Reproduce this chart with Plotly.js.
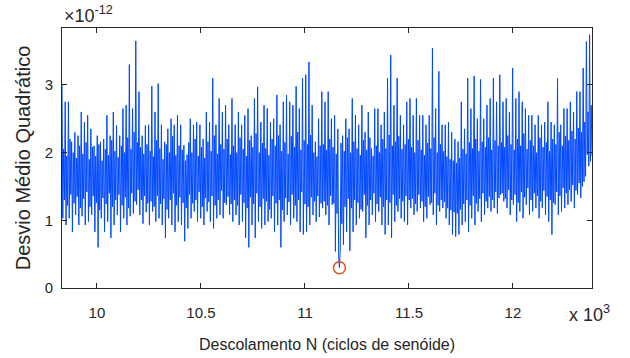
<!DOCTYPE html>
<html><head><meta charset="utf-8">
<script src="https://cdn.plot.ly/plotly-3.0.1.min.js"></script>
<style>html,body{margin:0;padding:0;background:#fff}#chart{width:630px;height:358px}
.scatterlayer .js-line{stroke-linejoin:round !important;}</style>
</head><body><div id="chart"></div>
<script>
// Shift range (sine cycles)
const N_inicio = 9832;
const N_fim = 12380;
// Mean squared deviation, in units of 1e-12
const desvio = [
3.00,1.03,2.05,1.30, 2.75,0.93,1.95,1.22, 2.75,1.03,2.20,1.38, 2.16,0.83,2.00,1.25,
2.30,1.08,1.92,1.35, 2.25,0.93,2.10,1.18, 2.60,1.06,1.98,1.32, 2.45,0.93,2.15,1.42,
2.55,0.98,1.90,1.20, 2.35,1.08,2.08,1.36, 2.10,0.83,1.95,1.26, 2.25,0.60,2.12,1.15,
2.16,1.03,1.88,1.33, 2.20,0.83,2.05,1.24, 2.55,0.98,1.96,1.40, 2.25,0.74,2.18,1.20,
2.60,0.93,2.02,1.30, 2.40,1.08,1.93,1.38, 2.25,0.83,2.10,1.22, 2.65,1.03,2.00,1.34,
2.70,0.93,2.22,1.18, 3.30,1.06,2.05,1.40, 2.65,1.10,2.30,1.28, 3.65,1.23,2.15,1.45,
2.90,1.08,2.08,1.30, 2.25,0.95,1.98,1.36, 2.40,1.12,2.12,1.25,
2.41,0.93,2.02,1.28, 2.98,1.13,1.94,1.20, 2.60,0.98,2.18,1.36, 3.02,1.03,2.06,1.24,
2.41,0.93,1.90,1.32, 2.16,0.74,2.12,1.16, 2.35,1.03,2.00,1.30, 2.50,0.93,2.24,1.40,
2.41,0.83,1.96,1.22, 2.55,0.98,2.10,1.34, 2.41,0.93,2.04,1.26, 2.11,0.69,1.88,1.18,
1.97,0.88,2.15,1.38, 2.50,1.03,2.00,1.25, 2.41,1.13,2.20,1.30, 2.45,0.98,1.95,1.42,
2.41,1.03,2.08,1.20, 2.20,0.93,1.92,1.33, 2.60,1.13,2.16,1.27, 2.45,0.98,2.02,1.36,
3.10,0.88,2.25,1.22, 2.41,1.03,1.98,1.30, 2.80,1.08,2.12,1.44, 2.60,1.03,2.05,1.26,
2.70,1.23,2.20,1.35, 2.41,1.08,1.97,1.24,
2.80,0.98,2.10,1.30, 2.41,1.08,2.00,1.22, 2.60,0.93,2.22,1.38, 2.41,0.98,2.05,1.26,
2.55,0.74,1.95,1.18, 2.65,0.60,2.18,1.34, 2.25,0.93,2.08,1.24, 2.80,0.74,2.28,1.40,
2.97,0.98,2.00,1.20, 2.45,0.88,2.14,1.32, 2.70,0.93,2.06,1.28, 2.65,0.98,1.96,1.16,
2.45,1.03,2.20,1.36, 2.50,0.83,2.10,1.25, 2.85,0.93,2.25,1.30, 2.41,0.60,2.02,1.15,
2.75,0.98,2.15,1.33, 2.85,1.08,1.98,1.27, 2.75,0.93,2.24,1.38, 2.70,1.03,2.08,1.22,
2.98,0.98,2.30,1.30, 2.65,0.83,2.04,1.42, 3.10,0.79,2.18,1.24, 3.15,0.83,2.12,1.20,
3.34,0.93,2.26,1.34, 2.70,1.08,2.00,1.28, 2.16,0.98,1.94,1.36, 2.50,1.05,2.10,1.25,
2.90,1.18,2.12,1.28, 2.75,1.08,2.04,1.22, 2.90,0.93,2.20,1.36, 2.50,1.23,2.08,1.25,
2.55,0.54,1.98,1.10, 2.35,0.48,0.30,0.56, 2.14,0.95, 2.25,0.64,2.02,1.20, 2.50,0.83,2.22,1.32,
2.35,0.55,2.00,1.18, 2.80,0.83,2.16,1.30, 2.55,0.93,2.06,1.26, 2.41,1.03,1.96,1.16,
2.70,1.13,2.18,1.38, 2.30,0.74,2.04,1.22, 2.60,0.93,2.22,1.30, 2.06,1.08,1.95,1.40,
2.65,0.98,2.10,1.24, 2.65,1.13,2.00,1.34, 2.41,0.93,2.20,1.20, 2.60,0.79,2.06,1.30,
3.10,0.93,2.26,1.26, 3.44,0.74,2.10,1.38, 2.70,0.98,2.16,1.22, 3.10,1.13,2.24,1.32,
2.55,1.03,2.05,1.28, 2.41,0.98,2.12,1.36, 2.75,0.93,2.20,1.30,
2.80,1.18,2.08,1.32, 2.55,1.08,2.00,1.24, 2.80,1.13,2.18,1.38, 2.55,1.18,2.04,1.28,
2.55,0.98,1.96,1.20, 2.41,1.03,2.14,1.35, 2.55,1.23,2.06,1.26, 3.54,1.08,2.22,1.40,
2.65,0.93,2.00,1.22, 3.20,1.13,2.12,1.30, 2.41,1.18,2.02,1.27, 2.41,1.03,1.94,1.18,
2.45,0.93,1.90,1.15, 2.30,0.79,1.88,1.12, 2.20,0.76,1.85,1.10, 2.16,0.79,1.92,1.16,
2.75,0.93,2.05,1.24, 2.35,0.98,1.98,1.30, 3.10,0.83,2.15,1.22, 2.65,1.03,2.06,1.36,
3.13,0.93,2.20,1.25, 2.50,1.13,2.02,1.32, 3.08,0.98,2.16,1.40, 2.50,1.08,2.08,1.28,
2.70,1.18,2.22,1.35, 2.80,1.13,2.04,1.30, 3.10,1.18,2.18,1.42, 2.75,1.10,2.10,1.33,
3.15,1.38,2.15,1.40, 2.75,1.28,2.08,1.32, 2.80,1.18,2.25,1.45, 2.60,1.08,2.12,1.30,
3.25,1.23,2.04,1.38, 2.80,0.98,2.20,1.26, 2.90,1.13,2.10,1.42, 2.75,1.03,2.28,1.34,
2.65,1.23,2.05,1.48, 2.55,1.08,2.18,1.30, 2.55,1.13,2.10,1.40, 2.41,1.18,2.00,1.36,
2.55,1.03,2.22,1.28, 2.41,1.18,2.08,1.44, 2.45,1.08,2.15,1.35, 2.75,0.98,2.02,1.30,
2.45,0.79,2.20,1.26, 2.41,1.23,2.12,1.42, 3.10,1.08,2.30,1.36, 2.41,1.13,2.10,1.48,
2.65,1.18,2.24,1.40, 2.65,1.23,2.18,1.45, 2.75,1.28,2.32,1.52, 2.60,1.18,2.20,1.44,
2.90,1.38,2.36,1.55, 2.90,1.33,2.30,1.50, 3.25,1.57,2.45,1.65, 3.64,1.97,2.60,1.80,
3.74,1.87,2.70,1.95
];
const xTicks = [10, 10.5, 11, 11.5, 12];
const xTickText = ['10', '10.5', '11', '11.5', '12'];
const yTicks = [0, 1, 2, 3];
const yTickText = ['0', '1', '2', '3'];

const passo = (N_fim - N_inicio) / (desvio.length - 1);
const N = desvio.map((_, i) => (N_inicio + i * passo) / 1000);
let iMin = 0;
desvio.forEach((v, i) => { if (v < desvio[iMin]) iMin = i; });

const FONT = 'Liberation Sans, Arial, Helvetica, sans-serif';
const INK = '#262626';

const traces = [
  {x: N, y: desvio, type: 'scatter', mode: 'lines',
   line: {color: 'rgb(0,72,255)', width: 1, simplify: false}, hoverinfo: 'skip'},
  {x: [N[iMin]], y: [desvio[iMin]], type: 'scatter', mode: 'markers',
   marker: {symbol: 'circle-open', size: 12, color: '#D95319', line: {width: 1.5, color: '#D95319'}}}
];

const axisBase = {
  ticks: 'inside', ticklen: 5, tickwidth: 1, tickcolor: INK,
  showline: true, linecolor: INK, linewidth: 1, mirror: 'ticks',
  showgrid: false, zeroline: false,
  tickfont: {family: FONT, size: 15, color: INK}
};

const layout = {
  width: 630, height: 358,
  margin: {l: 62, r: 38, t: 28, b: 70},
  paper_bgcolor: '#fff', plot_bgcolor: '#fff',
  showlegend: false,
  font: {family: FONT, color: INK},
  xaxis: Object.assign({}, axisBase, {
    range: [N_inicio / 1000, N_fim / 1000],
    tickvals: xTicks, ticktext: xTickText,
    ticklabelstandoff: 11,
    title: {text: 'Descolamento N (ciclos de senóide)', font: {family: FONT, size: 16, color: INK}, standoff: 18}
  }),
  yaxis: Object.assign({}, axisBase, {
    range: [0, 3.84],
    tickvals: yTicks, ticktext: yTickText,
    ticklabelstandoff: 5,
    title: {text: 'Desvio Médio Quadrático', font: {family: FONT, size: 20, color: INK}, standoff: 8}
  }),
  annotations: [
    {text: '×10<sup>-12</sup>', xref: 'paper', yref: 'paper', x: 0, y: 1,
     xanchor: 'left', yanchor: 'bottom', showarrow: false, yshift: 0,
     font: {family: FONT, size: 18, color: INK}},
    {text: 'x 10<sup>3</sup>', xref: 'paper', yref: 'paper', x: 0.953, y: 0,
     xanchor: 'left', yanchor: 'top', showarrow: false, yshift: -12,
     font: {family: FONT, size: 18, color: INK}}
  ]
};

Plotly.newPlot('chart', traces, layout, {staticPlot: true, displayModeBar: false});
</script>
</body></html>
